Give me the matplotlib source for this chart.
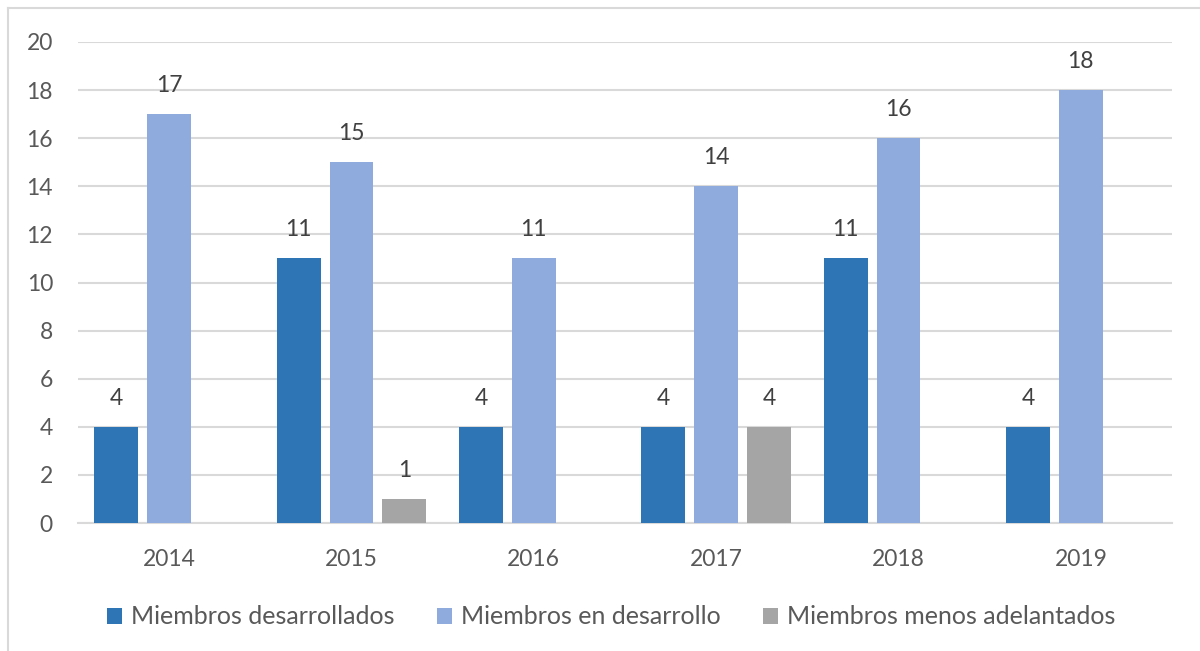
import matplotlib
matplotlib.use("Agg")
import matplotlib.pyplot as plt
from matplotlib.lines import Line2D
from matplotlib.patches import Patch
import numpy as np

years = ["2014", "2015", "2016", "2017", "2018", "2019"]
desarrollados = [4, 11, 4, 4, 11, 4]
en_desarrollo = [17, 15, 11, 14, 16, 18]
menos_adelantados = [0, 1, 0, 4, 0, 0]
series_names = ["Miembros desarrollados", "Miembros en desarrollo", "Miembros menos adelantados"]
colors = ["#2E75B6", "#8FAADC", "#A5A5A5"]

plt.rcParams['font.family'] = ['Lato', 'DejaVu Sans']
txt = "#595959"

fig = plt.figure(figsize=(12, 6.51), dpi=100)
ax = fig.add_axes([78/1200, 1-523/651, (1172-78)/1200, (523-42)/651])

x = np.arange(len(years))
offs = [-0.29, 0.0, 0.29]
w = 0.24
handles = []
for vals, off, c, name in zip([desarrollados, en_desarrollo, menos_adelantados], offs, colors, series_names):
    xs = [xi + off for xi, v in zip(x, vals) if v > 0]
    vs = [v for v in vals if v > 0]
    ax.bar(xs, vs, width=w, color=c, zorder=3)
    handles.append(Patch(facecolor=c, label=name))
    for xi, v in zip(xs, vs):
        ax.annotate(str(v), (xi, v), xytext=(0, 13), textcoords="offset points",
                    ha="center", va="bottom", fontsize=16.5, color="#404040")

ax.set_xlim(-0.5, len(years) - 0.5)
ax.set_ylim(0, 20)
ax.set_yticks(range(0, 21, 2))
ax.set_xticks(x)
ax.set_xticklabels(years)
ax.tick_params(axis='both', length=0, labelsize=16.5, labelcolor=txt)
ax.tick_params(axis='y', pad=18)
ax.tick_params(axis='x', pad=19)
ax.grid(axis='y', color="#D9D9D9", linewidth=1.5, zorder=0)
for s in ["top", "right", "left"]:
    ax.spines[s].set_visible(False)
ax.spines["bottom"].set_color("#D9D9D9")
ax.spines["bottom"].set_linewidth(1.5)

leg = fig.legend(handles=handles, loc="center", bbox_to_anchor=(611/1200, 1-617/651), ncol=3, frameon=False,
                 fontsize=18, handlelength=0.6, handleheight=0.6, handletextpad=0.35,
                 columnspacing=1.7, labelcolor=txt)

# outer chart border (top and left visible)
fig.add_artist(Line2D([8/1200, 1.0], [1-8/651, 1-8/651], transform=fig.transFigure, color="#D9D9D9", linewidth=1.5))
fig.add_artist(Line2D([8/1200, 8/1200], [0.0, 1-8/651], transform=fig.transFigure, color="#D9D9D9", linewidth=1.5))

fig.savefig("out.png", dpi=100, facecolor="white")
